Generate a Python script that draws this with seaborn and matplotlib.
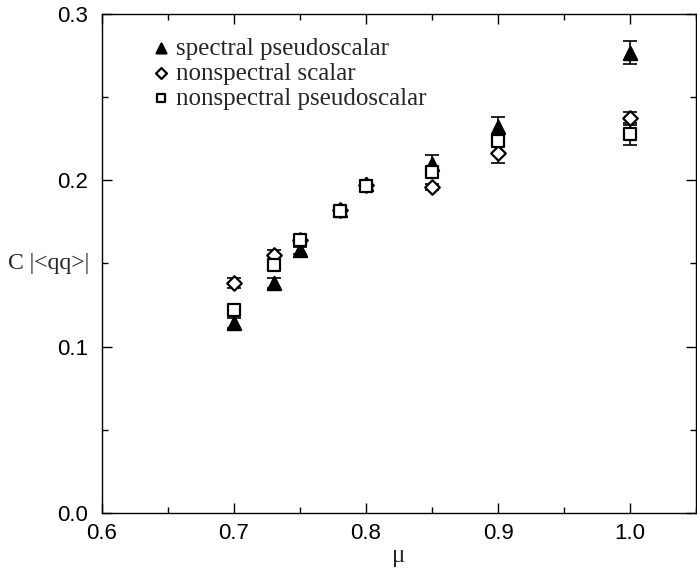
import numpy as np
import pandas as pd
import matplotlib
matplotlib.use("Agg")
import matplotlib.pyplot as plt
import seaborn as sns
from matplotlib.ticker import MultipleLocator

mu = [0.70, 0.73, 0.75, 0.78, 0.80, 0.85, 0.90, 1.00]

spec_ps = [0.1142, 0.1384, 0.158, 0.182, 0.198, 0.210, 0.2323, 0.2768]
spec_ps_err = [0.003, 0.003, 0.002, 0.002, 0.002, 0.005, 0.006, 0.007]

nons_s = [0.1381, 0.155, 0.164, 0.182, 0.197, 0.196, 0.2167, 0.2373]
nons_s_err = [0.003, 0.003, 0.002, 0.002, 0.002, 0.002, 0.0064, 0.004]

nons_ps = [0.1221, 0.149, 0.164, 0.1817, 0.1966, 0.205, 0.2239, 0.2279]
nons_ps_err = [0.003, 0.003, 0.002, 0.002, 0.002, 0.003, 0.003, 0.0066]

labels = ["spectral pseudoscalar", "nonspectral scalar", "nonspectral pseudoscalar"]
xticks = [0.6, 0.7, 0.8, 0.9, 1.0]
xticklabels = ["0.6", "0.7", "0.8", "0.9", "1.0"]
yticks = [0.0, 0.1, 0.2, 0.3]
yticklabels = ["0.0", "0.1", "0.2", "0.3"]

sns.set_style("ticks")
plt.rcParams["font.family"] = ["Liberation Sans", "DejaVu Sans"]
serif = ["Liberation Serif", "DejaVu Serif"]

fig = plt.figure(figsize=(6.97, 5.73), dpi=100)
ax = fig.add_axes([102 / 697, 1 - 513 / 573, (696 - 102) / 697, (513 - 14) / 573])

series = [
    (spec_ps, spec_ps_err, "^", "black", labels[0]),
    (nons_s, nons_s_err, "D", "white", labels[1]),
    (nons_ps, nons_ps_err, "s", "white", labels[2]),
]
sizes = {"^": 90, "D": 55, "s": 70}
for vals, errs, mk, fc, lab in series:
    ax.errorbar(mu, vals, yerr=errs, fmt="none", ecolor="black",
                elinewidth=1.2, capsize=5, capthick=1.2, zorder=2)
    df = pd.DataFrame({"mu": mu, "val": vals})
    sns.scatterplot(data=df, x="mu", y="val", marker=mk, s=sizes[mk],
                    facecolor=fc, edgecolor="black", linewidth=1.6,
                    ax=ax, zorder=3, label=lab)

ax.set_xlim(0.6, 1.05)
ax.set_ylim(0.0, 0.3)
ax.set_xticks(xticks)
ax.set_xticklabels(xticklabels)
ax.set_yticks(yticks)
ax.set_yticklabels(yticklabels)
ax.xaxis.set_minor_locator(MultipleLocator(0.05))
ax.yaxis.set_minor_locator(MultipleLocator(0.05))
ax.tick_params(which="both", direction="in", top=True, right=True,
               labelsize=16, width=1, colors="black")
ax.tick_params(which="major", length=7)
ax.tick_params(which="minor", length=4)
ax.tick_params(axis="x", pad=7)
ax.tick_params(axis="y", pad=10)
for sp in ax.spines.values():
    sp.set_linewidth(1.0)
    sp.set_color("black")

ax.set_xlabel("μ", fontsize=18, family=serif, labelpad=1)
ax.set_ylabel("C |<qq>|", fontsize=17, family=serif,
              rotation=0, ha="left", va="center")
ax.yaxis.set_label_coords(-94 / 594, (513 - 263) / 499)

leg = ax.legend(loc="upper left", bbox_to_anchor=(0.058, 0.973), frameon=False,
                prop={"family": serif, "size": 18},
                handletextpad=0.0, labelspacing=0.1, borderaxespad=0,
                markerscale=0.75, handlelength=1.2)

fig.savefig("out.png", dpi=100)
